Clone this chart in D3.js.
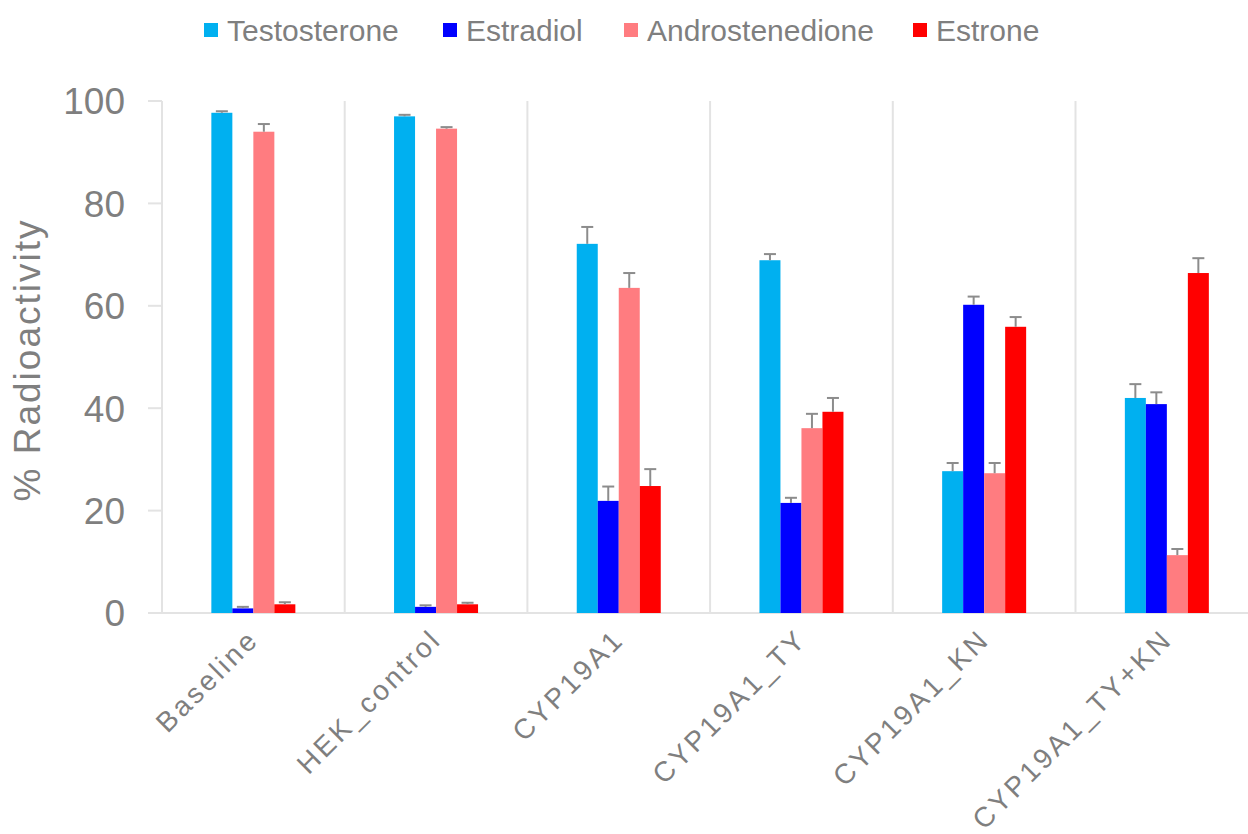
<!DOCTYPE html>
<html>
<head>
<meta charset="utf-8">
<script src="https://cdn.jsdelivr.net/npm/d3@7"></script>
<style>
  body { margin: 0; background: #fff; }
  text { font-family: "Liberation Sans", Arial, sans-serif; fill: #7f7f7f; }
</style>
</head>
<body>
<div id="chart"></div>
<script>
// Steroid conversion — % radioactivity per hormone and cell line

const categories = ["Baseline", "HEK_control", "CYP19A1", "CYP19A1_TY", "CYP19A1_KN", "CYP19A1_TY+KN"];
const seriesNames = ["Testosterone", "Estradiol", "Androstenedione", "Estrone"];
const seriesColors = ["#00b0f0", "#0000ff", "#ff7c80", "#ff0000"];

// mean values per series (same order as categories)
const testosterone = [97.7, 97.0, 72.1, 68.9, 27.7, 42.0];
const estradiol = [0.9, 1.2, 21.9, 21.5, 60.2, 40.8];
const androstenedione = [94.0, 94.6, 63.5, 36.1, 27.3, 11.3];
const estrone = [1.7, 1.7, 24.8, 39.3, 55.9, 66.4];

// upper error (SD)
const testosteroneErr = [0.3, 0.3, 3.3, 1.2, 1.6, 2.7];
const estradiolErr = [0.3, 0.3, 2.8, 1.0, 1.6, 2.3];
const androstenedioneErr = [1.5, 0.3, 2.9, 2.8, 2.0, 1.2];
const estroneErr = [0.4, 0.3, 3.3, 2.7, 1.9, 2.9];

const yTicks = [0, 20, 40, 60, 80, 100];

const values = [testosterone, estradiol, androstenedione, estrone];
const errors = [testosteroneErr, estradiolErr, androstenedioneErr, estroneErr];

const W = 1248, H = 834;
const svg = d3.select("#chart").append("svg").attr("width", W).attr("height", H);

const m = { top: 101, left: 162, bottom: 613 };
const x = d3.scaleBand().domain(categories).range([m.left, m.left + 6 * 182.7]).padding(0);
const inner = d3.scaleBand().domain(seriesNames).range([-42, 42]).padding(0);
const y = d3.scaleLinear().domain([0, 100]).range([m.bottom, m.top]);

const grid = "#e3e3e3";

// category separators
svg.append("g").selectAll("line")
  .data(categories.slice(1))
  .join("line")
  .attr("x1", d => x(d)).attr("x2", d => x(d))
  .attr("y1", y(100)).attr("y2", y(0))
  .attr("stroke", grid).attr("stroke-width", 2);

// y axis line + ticks
svg.append("line")
  .attr("x1", m.left).attr("x2", m.left)
  .attr("y1", y(100)).attr("y2", y(0))
  .attr("stroke", grid).attr("stroke-width", 2);

svg.append("g").selectAll("line")
  .data(yTicks)
  .join("line")
  .attr("x1", m.left - 14).attr("x2", m.left)
  .attr("y1", d => y(d)).attr("y2", d => y(d))
  .attr("stroke", grid).attr("stroke-width", 2);

svg.append("g").selectAll("text")
  .data(yTicks)
  .join("text")
  .attr("x", 125)
  .attr("y", d => y(d))
  .attr("dy", "0.36em")
  .attr("text-anchor", "end")
  .style("font-size", "37px")
  .text(d => d);

// baseline
svg.append("line")
  .attr("x1", m.left - 14).attr("x2", W)
  .attr("y1", y(0)).attr("y2", y(0))
  .attr("stroke", grid).attr("stroke-width", 2);

// y title
svg.append("text")
  .attr("transform", `translate(40,${(m.top + m.bottom) / 2 + 3}) rotate(-90)`)
  .attr("text-anchor", "middle")
  .style("font-size", "37px")
  .style("letter-spacing", "2px")
  .text("% Radioactivity");

// bars
seriesNames.forEach((s, si) => {
  const g = svg.append("g");
  const rows = categories.map((c, ci) => ({ c, v: values[si][ci], e: errors[si][ci] }));
  const bx = d => x(d.c) + x.bandwidth() / 2 + inner(s);

  g.selectAll("rect")
    .data(rows)
    .join("rect")
    .attr("x", bx)
    .attr("width", inner.bandwidth())
    .attr("y", d => y(d.v))
    .attr("height", d => y(0) - y(d.v))
    .attr("fill", seriesColors[si]);

  // error bars (upper only)
  const cx = d => bx(d) + inner.bandwidth() / 2;
  g.selectAll("line.stem")
    .data(rows)
    .join("line")
    .attr("class", "stem")
    .attr("x1", cx).attr("x2", cx)
    .attr("y1", d => y(d.v)).attr("y2", d => y(d.v + d.e))
    .attr("stroke", "#8c8c8c").attr("stroke-width", 2);
  g.selectAll("line.cap")
    .data(rows)
    .join("line")
    .attr("class", "cap")
    .attr("x1", d => cx(d) - 6).attr("x2", d => cx(d) + 6)
    .attr("y1", d => y(d.v + d.e)).attr("y2", d => y(d.v + d.e))
    .attr("stroke", "#8c8c8c").attr("stroke-width", 2);
});

// category labels, rotated
svg.append("g").selectAll("text")
  .data(categories)
  .join("text")
  .attr("transform", d => `translate(${x(d) + x.bandwidth() / 2 + 7},${y(0) + 28}) rotate(-45)`)
  .attr("text-anchor", "end")
  .style("font-size", "28px")
  .style("letter-spacing", "3px")
  .text(d => d);

// legend
const legendX = [204, 443, 624, 913];
const leg = svg.append("g").selectAll("g")
  .data(seriesNames)
  .join("g")
  .attr("transform", (d, i) => `translate(${legendX[i]},30)`);
leg.append("rect")
  .attr("x", 0).attr("y", -7).attr("width", 14).attr("height", 14)
  .attr("fill", (d, i) => seriesColors[i]);
leg.append("text")
  .attr("x", 23).attr("dy", "0.36em")
  .style("font-size", "30px")
  .text(d => d);
</script>
</body>
</html>
